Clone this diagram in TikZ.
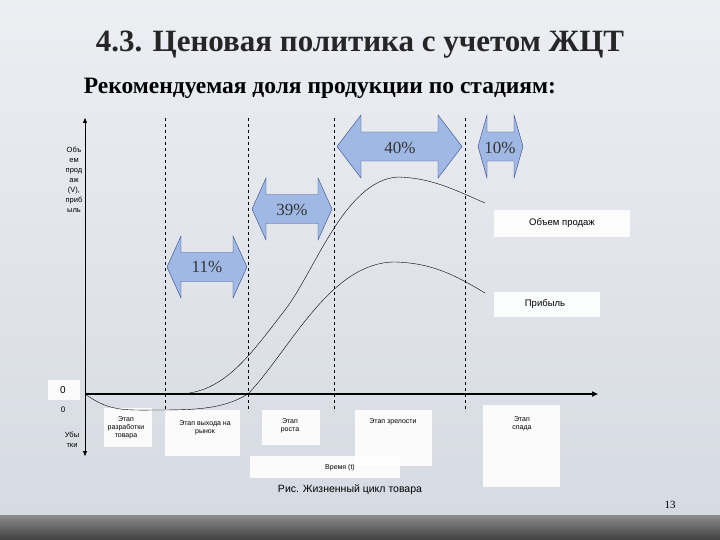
\documentclass[tikz,border=0pt]{standalone}
\usepackage{fontspec}
\setmainfont{Liberation Serif}
\setsansfont{Liberation Sans}
\usetikzlibrary{arrows.meta}
\definecolor{bgA}{RGB}{236,238,242}
\definecolor{bgB}{RGB}{214,218,226}
\definecolor{arrfill}{RGB}{160,185,228}
\definecolor{arrline}{RGB}{50,70,140}
\tikzset{
  wbox/.style={fill=white,draw=none,opacity=0.9},
  lbl/.style={font=\sffamily\fontsize{7}{8}\selectfont,align=center,text=black},
  dsh/.style={dashed,thin},
  pct/.style={font=\fontsize{17}{18}\selectfont,text=black!80}
}
\newcommand{\dblarr}[5]{% x1 x2 ytop ybot headlen
  \fill[arrfill,draw=arrline,thin] (#1,{(#3+#4)/2}) -- (#1+#5,#3) -- (#1+#5,{#3+(#4-#3)*0.27}) -- (#2-#5,{#3+(#4-#3)*0.27}) -- (#2-#5,#3) -- (#2,{(#3+#4)/2}) -- (#2-#5,#4) -- (#2-#5,{#4-(#4-#3)*0.27}) -- (#1+#5,{#4-(#4-#3)*0.27}) -- (#1+#5,#4) -- cycle;}
\begin{document}
\begin{tikzpicture}[x=1pt,y=-1pt]
\useasboundingbox (0,0) rectangle (720,540);
\shade[top color=bgA,bottom color=bgB] (0,0) rectangle (720,515);
\shade[top color=black!45,bottom color=black!75] (0,515) rectangle (720,540);
\node[font=\bfseries\fontsize{31}{33}\selectfont,text=black!85] (title) at (360,45) {4.3. Ценовая политика с учетом ЖЦТ};
\node[font=\bfseries\fontsize{23.5}{26}\selectfont] (sub) at (320,88) {Рекомендуемая доля продукции по стадиям:};
% boxes
\fill[wbox] (494,210) rectangle (630,237);
\fill[wbox] (494,292) rectangle (600,317);
\fill[wbox] (48,380) rectangle (80,400);
\fill[wbox] (104,408) rectangle (152,447);
\fill[wbox] (165,410) rectangle (240,456);
\fill[wbox] (262,410) rectangle (320,445);
\fill[wbox] (355,410) rectangle (432,466);
\fill[wbox] (483,405) rectangle (560,487);
\fill[wbox] (250,456) rectangle (400,478);
% dashed
\coordinate (d1t) at (165,118); \coordinate (d1b) at (165,412);
\coordinate (d2t) at (248,118); \coordinate (d2b) at (248,412);
\coordinate (d3t) at (334,118); \coordinate (d3b) at (334,412);
\coordinate (d4t) at (465,118); \coordinate (d4b) at (465,412);
\draw[dsh] (d1t)--(d1b); \draw[dsh] (d2t)--(d2b); \draw[dsh] (d3t)--(d3b); \draw[dsh] (d4t)--(d4b);
% axes
\coordinate (o) at (85,394); \coordinate (xe) at (598,394);
\coordinate (yt) at (85,118); \coordinate (yb) at (85,456);
\draw[line width=1.6pt,-{Triangle[length=6pt,width=5pt]}] (o)--(xe);
\draw[thin,-{Triangle[length=5pt,width=4pt]}] (o)--(yt);
\draw[thin,-{Triangle[length=5pt,width=4pt]}] (o)--(yb);
% curves
\draw[thin] (165,394) -- (180,394) .. controls (225,392) and (250,355) .. (285,310)
  .. controls (315,271) and (345,180) .. (398,177) .. controls (432,178) and (455,190) .. (485,203);
\draw[thin] (85,394) .. controls (110,412) and (125,410) .. (160,410) .. controls (200,410) and (225,408) .. (248,394)
  .. controls (290,350) and (330,262) .. (395,262) .. controls (432,263) and (455,275) .. (485,293);
% arrows
\dblarr{167}{247}{236}{298}{14}
\dblarr{252}{332}{178}{240}{14}
\dblarr{337}{462}{115}{178}{24}
\dblarr{478}{523}{115}{178}{9}
\node[pct] (p11) at (207,267) {11\%};
\node[pct] (p39) at (292,210) {39\%};
\node[pct] (p40) at (400,148) {40\%};
\node[pct] (p10) at (500,148) {10\%};
% labels
\node[lbl,font=\sffamily\fontsize{7.5}{10}\selectfont] (ylab) at (74,180) {Объ\\ем\\прод\\аж\\(V),\\приб\\ыль};
\node[lbl,font=\sffamily\fontsize{9.5}{11}\selectfont] (sales) at (562,223) {Объем продаж};
\node[lbl,font=\sffamily\fontsize{9.5}{11}\selectfont] (prof) at (545,304) {Прибыль};
\node[lbl,font=\sffamily\fontsize{10}{11}\selectfont] (z1) at (63,390) {0};
\node[lbl,font=\sffamily\fontsize{8}{9}\selectfont] (z2) at (63,410) {0};
\node[lbl,font=\sffamily\fontsize{7.5}{10}\selectfont] (loss) at (72,440) {Убы\\тки};
\node[lbl] (s1) at (126,428) {Этап\\разработки\\товара};
\node[lbl] (s2) at (205,428) {Этап выхода на\\рынок};
\node[lbl] (s3) at (290,426) {Этап\\роста};
\node[lbl] (s4) at (393,422) {Этап зрелости};
\node[lbl] (s5) at (522,424) {Этап\\спада};
\node[lbl] (time) at (340,468) {Время (t)};
\node[lbl,font=\sffamily\fontsize{10.5}{12}\selectfont] (cap) at (350,490) {Рис. Жизненный цикл товара};
\node[font=\fontsize{11}{12}\selectfont] (pg) at (670,505) {13};
\end{tikzpicture}
\end{document}
